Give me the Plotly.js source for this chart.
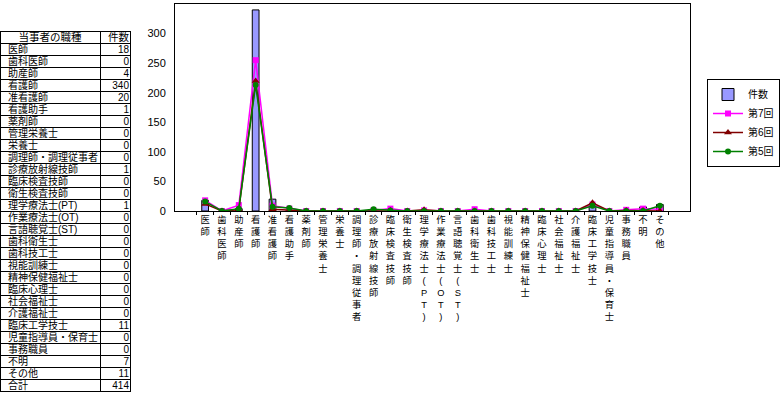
<!DOCTYPE html>
<html><head><meta charset="utf-8">
<script src="https://cdn.plot.ly/plotly-3.0.1.min.js"></script>
<style>html,body{margin:0;padding:0;background:#fff;}#chart{width:780px;height:396px;}</style>
</head><body><div id="chart"></div>
<script>
const categories = ['医師','歯科医師','助産師','看護師','准看護師','看護助手','薬剤師','管理栄養士','栄養士','調理師・調理従事者','診療放射線技師','臨床検査技師','衛生検査技師','理学療法士(PT)','作業療法士(OT)','言語聴覚士(ST)','歯科衛生士','歯科技工士','視能訓練士','精神保健福祉士','臨床心理士','社会福祉士','介護福祉士','臨床工学技士','児童指導員・保育士','事務職員','不明','その他'];
const counts = [18,0,4,340,20,1,0,0,0,0,1,0,0,1,0,0,0,0,0,0,0,0,0,11,0,0,7,11];
const round7 = [18,0,10,255,9,4,0,0,0,0,1,4,0,1,0,0,3,0,0,0,0,0,0,11,0,2,4,3];
const round6 = [12,0,2,220,3,1,0,0,0,0,0,1,0,2,0,0,0,0,0,0,0,0,0,14,0,1,1,0];
const round5 = [16,0,4,213,7,5,0,0,0,0,3,1,0,0,0,0,0,0,0,0,0,0,0,9,0,0,0,9];
const yTicks = [0,50,100,150,200,250,300,350];
const tableHeader = ['当事者の職種','件数'];
const totalLabel = '合計';

const total = counts.reduce((a,b)=>a+b,0);
const vertical = categories.map(c => c.split('').join('<br>'));
const W = 780, H = 396;
const FONT = 'Liberation Sans, Noto Sans CJK JP, sans-serif';
const rowH = 12, tTop = 31, shiftY = 6;
const nameCol = categories.concat([totalLabel]);
const countCol = counts.concat([total]);
const blank = nameCol.map(() => '');

const traces = [
  {type:'bar', x:categories, y:counts, name:'件数', marker:{color:'#9999FF', line:{color:'#000', width:1}}},
  {type:'scatter', mode:'lines+markers', x:categories, y:round7, name:'第7回', line:{color:'#FF00FF', width:1.5}, marker:{symbol:'square', size:6, color:'#FF00FF'}},
  {type:'scatter', mode:'lines+markers', x:categories, y:round6, name:'第6回', line:{color:'#800000', width:1.5}, marker:{symbol:'triangle-up', size:7, color:'#800000'}},
  {type:'scatter', mode:'lines+markers', x:categories, y:round5, name:'第5回', line:{color:'#008000', width:1.5}, marker:{symbol:'circle', size:6, color:'#008000'}},
  // table grid (lines only)
  {type:'table', domain:{x:[0,130/W], y:[0, 1-tTop/H]}, columnwidth:[100,30],
   header:{values:['',''], height:rowH, line:{color:'#000', width:1}, fill:{color:'#fff'}, font:{size:10}},
   cells:{values:[blank, blank], height:rowH, line:{color:'#000', width:1}, fill:{color:'#fff'}, font:{size:10}},
   showlegend:false},
  // table text
  {type:'table', domain:{x:[0,137/W], y:[0, 1-(tTop-shiftY)/H]}, columnwidth:[100,37],
   header:{values:tableHeader, align:['center','center'], height:rowH, line:{color:'rgba(0,0,0,0)', width:0}, fill:{color:'rgba(0,0,0,0)'}, font:{family:FONT, size:10.5, color:'#000'}},
   cells:{values:[nameCol, countCol], align:['left','right'], height:rowH, line:{color:'rgba(0,0,0,0)', width:0}, fill:{color:'rgba(0,0,0,0)'}, font:{family:FONT, size:10, color:'#000'}},
   showlegend:false}
];

const layout = {
  width:W, height:H, margin:{l:0,r:0,t:0,b:0, autoexpand:false},
  paper_bgcolor:'#fff', plot_bgcolor:'#fff',
  font:{family:FONT, size:11, color:'#000'},
  bargap:0.6,
  xaxis:{domain:[175/W, 690/W], type:'category', tickvals:categories, ticktext:vertical, tickangle:0,
    tickfont:{size:9.3, family:FONT}, showline:true, linecolor:'#000', linewidth:1, mirror:true,
    ticks:'outside', tickson:'boundaries', ticklen:3, tickcolor:'#000', showgrid:false, zeroline:false, automargin:false},
  yaxis:{domain:[1-211/H, 1-4/H], range:[0,350], tickvals:yTicks, ticks:'', showline:true, linecolor:'#000', linewidth:1, mirror:true,
    showgrid:false, zeroline:false, tickfont:{size:11}, ticklabelstandoff:6, automargin:false},
  legend:{x:1, y:1-79/H, xanchor:'right', yanchor:'top', bordercolor:'#000', borderwidth:1, bgcolor:'#fff', font:{size:10}, itemwidth:30, tracegroupgap:0},
  showlegend:true
};
Plotly.newPlot('chart', traces, layout, {staticPlot:true});
</script></body></html>
